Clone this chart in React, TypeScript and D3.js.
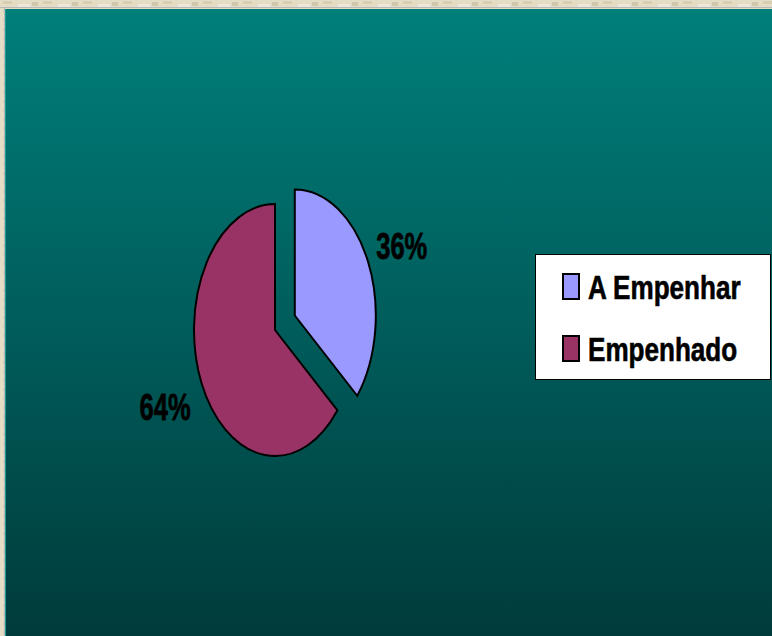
import React from "react";
import * as d3 from "d3";

const categories = ["A Empenhar", "Empenhado"];
const values = [36, 64];
const labels = ["36%", "64%"];
const colors = ["#9999FF", "#993366"];

const W = 772;
const H = 636;

export default function App() {
  const cx = 275;
  const cy = 330;
  const rx = 81;
  const ry = 126;
  const explode = [0.27, 0];

  const pie = d3
    .pie<number>()
    .sort(null)
    .startAngle(0)
    .endAngle(2 * Math.PI)
    .value((d) => d);
  const arcs = pie(values);
  const arc = d3.arc<d3.PieArcDatum<number>>().innerRadius(0).outerRadius(1);

  const font = "'Liberation Sans', Arial, Helvetica, sans-serif";
  const labelFs = 30;
  const legendFs = 32;

  return (
    <svg
      width={W}
      height={H}
      style={{ position: "absolute", left: 0, top: 0, display: "block" }}
    >
      <defs>
        <linearGradient id="bg" x1="0" y1="0" x2="0" y2="1">
          <stop offset="0" stopColor="#007f7b" />
          <stop offset="1" stopColor="#003b3b" />
        </linearGradient>
        <pattern id="paper" width="40" height="9" patternUnits="userSpaceOnUse">
          <rect width="40" height="9" fill="#e4dcc4" />
          <rect x="3" y="1" width="9" height="3" fill="#d8ceb2" />
          <rect x="18" y="4" width="12" height="3" fill="#efe8d6" />
          <rect x="32" y="2" width="6" height="4" fill="#d2c7aa" />
        </pattern>
      </defs>
      <rect x={0} y={0} width={W} height={H} fill="url(#paper)" />
      <line x1={0} x2={W} y1={7.5} y2={7.5} stroke="#b8b8b8" strokeWidth={1} />
      <line x1={4.5} x2={4.5} y1={8} y2={H} stroke="#b8b8b8" strokeWidth={1} />
      <rect x={6} y={9} width={W - 6} height={H - 9} fill="url(#bg)" />
      <line x1={5.5} x2={5.5} y1={9} y2={H} stroke="#1a9a96" strokeWidth={1} />

      {arcs.map((a, i) => {
        const mid = (a.startAngle + a.endAngle) / 2;
        const dx = Math.sin(mid) * rx * explode[i];
        const dy = -Math.cos(mid) * ry * explode[i];
        return (
          <path
            key={categories[i]}
            d={arc(a) || ""}
            transform={`translate(${cx + dx},${cy + dy}) scale(${rx},${ry})`}
            fill={colors[i]}
            stroke="#000"
            strokeWidth={2}
            vectorEffect="non-scaling-stroke"
          />
        );
      })}

      {arcs.map((a, i) => {
        const mid = (a.startAngle + a.endAngle) / 2;
        const x = cx + Math.sin(mid) * rx * (1.5 + explode[i]) + (i === 0 ? -3 : 0);
        const y = cy - Math.cos(mid) * ry * (1.36 + explode[i]) + 3;
        return (
          <g key={"l" + i} transform={`translate(${x},${y}) scale(0.85,1.26)`}>
            <text
              x={0}
              y={labelFs * 0.36}
              textAnchor="middle"
              fontFamily={font}
              fontWeight="bold"
              fontSize={labelFs}
              fill="#000"
              stroke="#000"
              strokeWidth={0.6}
            >
              {labels[i]}
            </text>
          </g>
        );
      })}

      <rect x={535.5} y={254.5} width={235} height={125} fill="#fff" stroke="#000" strokeWidth={1} />
      {categories.map((c, i) => {
        const rowY = 274 + i * 62;
        return (
          <g key={"lg" + i}>
            <rect
              x={563}
              y={rowY}
              width={16}
              height={25}
              fill={colors[i]}
              stroke="#000"
              strokeWidth={2}
            />
            <g transform={`translate(588,${rowY + 25}) scale(0.815,1.06)`}>
              <text
                x={0}
                y={0}
                fontFamily={font}
                fontWeight="bold"
                fontSize={legendFs}
                fill="#000"
                stroke="#000"
                strokeWidth={0.6}
              >
                {c}
              </text>
            </g>
          </g>
        );
      })}
    </svg>
  );
}
